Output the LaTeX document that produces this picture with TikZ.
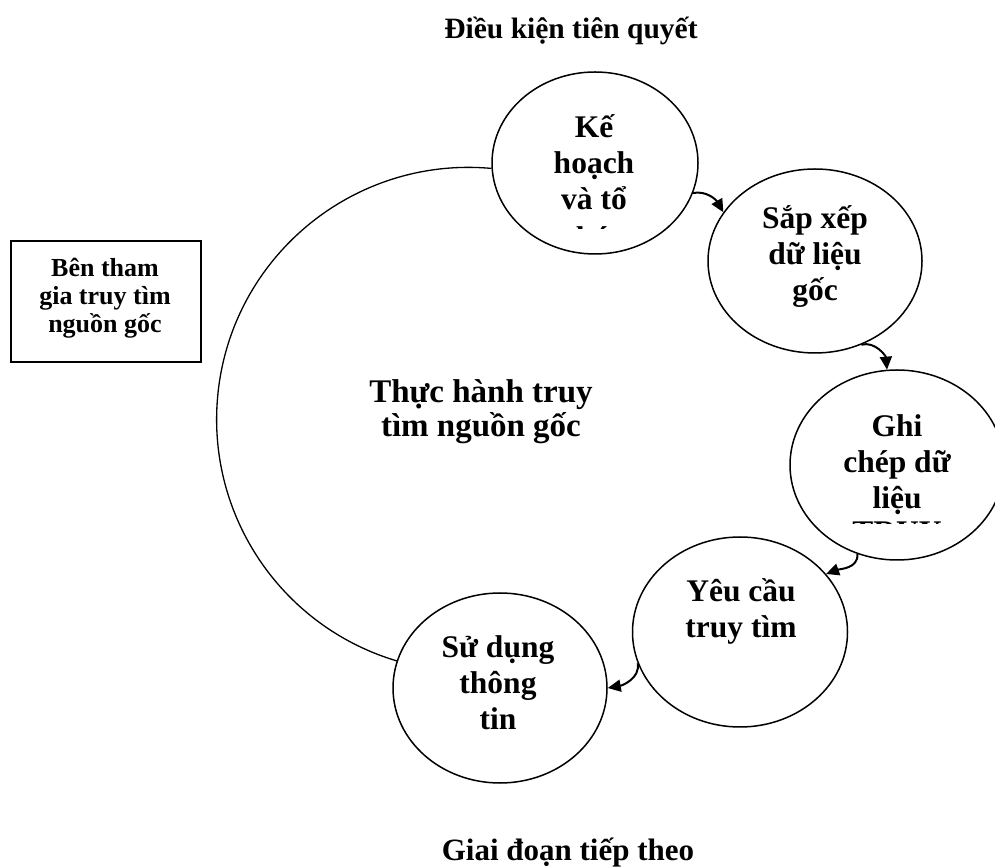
\documentclass[tikz,border=0pt]{standalone}
\usepackage{fontspec}
\setmainfont{Liberation Serif}
\usetikzlibrary{arrows.meta,shapes.geometric}
% centred lines whose baseline is the first line's
\newcommand\ctrlines[1]{\vtop{\lineskiplimit=-\maxdimen\halign{\hfil##\hfil\cr#1\crcr}}}

\begin{document}
\begin{tikzpicture}[x=1pt,y=1pt,
  stage/.style={draw, ellipse, line width=1.5pt, inner sep=0pt},
  txt/.style={anchor=base, inner sep=0pt, font=\bfseries\fontsize{31.5}{36}\selectfont},
  flow/.style={line width=2pt, -{Triangle[length=13pt,width=12pt]}},
]
\fill[white] (0,0) rectangle (995,867);
\useasboundingbox (0,0) rectangle (995,867);

% stages of the cycle
\node[stage, minimum width=206pt, minimum height=182pt] (plan)    at (595,704) {};
\node[stage, minimum width=214pt, minimum height=184pt] (sort)    at (815,606) {};
\node[stage, minimum width=214pt, minimum height=190pt] (record)  at (897,402) {};
\node[stage, minimum width=215pt, minimum height=190pt] (request) at (740,235) {};
\node[stage, minimum width=214pt, minimum height=190pt] (use)     at (500,179) {};

\node[txt] (plantext)    at (594,729) {\ctrlines{Kế\cr hoạch\cr và tổ}};
\node[txt] (sorttext)    at (815,638) {\ctrlines{Sắp xếp\cr dữ liệu\cr gốc}};
\node[txt] (recordtext)  at (897,430) {\ctrlines{Ghi\cr chép dữ\cr liệu}};
\node[txt] (requesttext) at (741,265) {\ctrlines{Yêu cầu\cr truy tìm}};
\node[txt] (usetext)     at (498,209) {\ctrlines{Sử dụng\cr thông\cr tin}};

% lines cut off by the bottom of their text areas
\begin{scope}
  \clip (540,638) rectangle (650,655);
  \node[txt] (plantail) at (594,618.7) {chức};
\end{scope}
\begin{scope}
  \clip (830,343.2) rectangle (965,352);
  \node[txt] (recordtail) at (897,324.5) {TRUY};
\end{scope}

% outer arc closing the cycle
\draw[line width=1.3pt] (plan.183) arc[start angle=84.8, end angle=253.6, radius=252];

% flow between stages
\draw[flow] (plan.-17)    to[out=10,in=120] (sort.152);
\draw[flow] (sort.-61)    to[out=15,in=95]  (record.96);
\draw[flow] (record.-114) to[out=-85,in=20] (request.34);
\draw[flow] (request.197) to[out=-80,in=10] (use.0);

% centre caption
\node[anchor=base, inner sep=0pt, font=\bfseries\fontsize{33}{34}\selectfont] (practice) at (481,464)
  {\ctrlines{Thực hành truy\cr tìm nguồn gốc}};

% participants box
\node[draw, line width=1.8pt, minimum width=190pt, minimum height=121pt, inner sep=0pt] (party) at (106,565.5) {};
\node[anchor=base, inner sep=0pt, font=\bfseries\fontsize{26}{28}\selectfont] (partytext) at (105,590)
  {\ctrlines{Bên tham\cr gia truy tìm\cr nguồn gốc}};

% headings
\node[anchor=base, inner sep=0pt, font=\bfseries\fontsize{29.5}{34}\selectfont] (prereq) at (571,828) {Điều kiện tiên quyết};
\node[anchor=base, inner sep=0pt, font=\bfseries\fontsize{31}{34}\selectfont] (next) at (568,7) {Giai đoạn tiếp theo};
\end{tikzpicture}
\end{document}
